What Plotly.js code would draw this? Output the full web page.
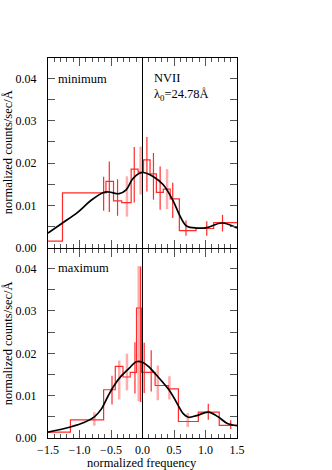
<!DOCTYPE html>
<html>
<head>
<meta charset="utf-8">
<script src="https://cdn.plot.ly/plotly-3.0.1.min.js"></script>
<style>
  body { margin: 0; background: #fff; }
  #chart { width: 332px; height: 470px; }
</style>
</head>
<body>
<div id="chart"></div>
<script>
// --- minimum (top panel) ---
var minEdges = [-1.5, -1.27, -0.58, -0.46, -0.33, -0.18, -0.07, 0.016, 0.12, 0.22, 0.33, 0.44, 0.585, 0.85, 1.13, 1.5];
var minCounts = [0.0016, 0.0130, 0.0157, 0.0111, 0.0107, 0.0186, 0.0179, 0.0208, 0.0175, 0.0131, 0.0139, 0.0116, 0.0041, 0.0046, 0.0060];
var minErrX = [-0.617, -0.527, -0.396, -0.131, 0.07, 0.174, 0.28, 0.48, 0.69, 1.02, 1.27];
var minErrLo = [0.0088, 0.0085, 0.0076, 0.0107, 0.0133, 0.0114, 0.0090, 0.0071, 0.0029, 0.0029, 0.0039];
var minErrHi = [0.0168, 0.0204, 0.0162, 0.0238, 0.0262, 0.0224, 0.0192, 0.0154, 0.0065, 0.0063, 0.0078];
var minErr2X = [-0.247, -0.03, 0.39];
var minErr2Lo = [0.0074, 0.0126, 0.0092];
var minErr2Hi = [0.0169, 0.0239, 0.0186];
var minFitX = [-1.5, -1.27, -1.03, -0.82, -0.62, -0.53, -0.37, -0.26, -0.16, -0.05, 0.016, 0.174, 0.33, 0.49, 0.6, 0.7, 0.86, 1.02, 1.26, 1.5];
var minFitY = [0.0035, 0.0059, 0.0084, 0.0112, 0.0131, 0.0132, 0.0128, 0.0137, 0.0162, 0.0176, 0.0178, 0.0168, 0.0149, 0.0110, 0.0074, 0.0052, 0.0047, 0.0048, 0.0059, 0.0047];

// --- maximum (bottom panel) ---
var maxEdges = [-1.5, -1.144, -0.617, -0.432, -0.31, -0.195, -0.095, -0.016, 0.2, 0.41, 0.57, 0.886, 1.218, 1.5];
var maxCounts = [0.0014, 0.0043, 0.0114, 0.0169, 0.0144, 0.0155, 0.0307, 0.0155, 0.0124, 0.0116, 0.0039, 0.0061, 0.0030];
var maxErrX = [-0.484, -0.12, -0.03, 0.027, 0.138, 1.044, 1.40];
var maxErrLo = [0.0079, 0.0105, 0.0085, 0.0106, 0.0110, 0.0043, 0.0021];
var maxErrHi = [0.0147, 0.0226, 0.0405, 0.0225, 0.0207, 0.0081, 0.0042];
var maxErr2X = [-0.764, -0.369, -0.247, -0.06, 0.243, 0.427, 0.718];
var maxErr2Lo = [0.0029, 0.0091, 0.0113, 0.0087, 0.0089, 0.0091, 0.0026];
var maxErr2Hi = [0.0061, 0.0183, 0.0199, 0.0406, 0.0171, 0.0146, 0.0059];
var maxFitX = [-1.5, -1.144, -0.92, -0.764, -0.66, -0.55, -0.45, -0.34, -0.21, -0.1, 0, 0.095, 0.2, 0.307, 0.438, 0.544, 0.65, 0.73, 0.86, 1.044, 1.2, 1.34, 1.5];
var maxFitY = [0.0014, 0.0026, 0.0037, 0.0050, 0.0067, 0.0098, 0.0124, 0.0146, 0.0165, 0.0180, 0.0179, 0.0169, 0.0152, 0.0134, 0.0110, 0.0083, 0.0057, 0.0049, 0.0053, 0.0061, 0.0050, 0.0035, 0.0029];

var FONT = "Liberation Serif, Times New Roman, serif";
var RED = "#ff2a2a";
var PINK = "rgba(255,70,70,0.45)";

function steps(edges, vals, xa, ya) {
  return {
    x: edges, y: vals.concat([vals[vals.length - 1]]),
    xaxis: xa, yaxis: ya, type: "scatter", mode: "lines",
    line: { shape: "hv", color: RED, width: 1.2 }, hoverinfo: "skip"
  };
}

function bars(xs, lo, hi, color, w, xa, ya) {
  var x = [], y = [];
  for (var i = 0; i < xs.length; i++) {
    x.push(xs[i], xs[i], null);
    y.push(lo[i], hi[i], null);
  }
  return {
    x: x, y: y, xaxis: xa, yaxis: ya, type: "scatter", mode: "lines",
    line: { color: color, width: w }, connectgaps: false, hoverinfo: "skip"
  };
}

function fit(xs, ys, xa, ya) {
  return {
    x: xs, y: ys, xaxis: xa, yaxis: ya, type: "scatter", mode: "lines",
    line: { shape: "spline", smoothing: 1, color: "black", width: 1.7 }, hoverinfo: "skip"
  };
}

var data = [
  bars(minErr2X, minErr2Lo, minErr2Hi, PINK, 2.5, "x2", "y2"),
  steps(minEdges, minCounts, "x2", "y2"),
  bars(minErrX, minErrLo, minErrHi, RED, 1.2, "x2", "y2"),
  fit(minFitX, minFitY, "x2", "y2"),
  bars(maxErr2X, maxErr2Lo, maxErr2Hi, PINK, 2.5, "x", "y"),
  steps(maxEdges, maxCounts, "x", "y"),
  bars(maxErrX, maxErrLo, maxErrHi, RED, 1.2, "x", "y"),
  fit(maxFitX, maxFitY, "x", "y")
];

function xAxis(labels, anchor) {
  return {
    range: [-1.5, 1.5], anchor: anchor, dtick: 0.5, tickformat: ".1f",
    ticks: "inside", ticklen: 8, tickcolor: "#555", tickwidth: 1,
    minor: { dtick: 0.1, ticks: "inside", ticklen: 4, tickcolor: "#555" },
    showline: true, linecolor: "black", linewidth: 1, mirror: "ticks",
    showgrid: false, zeroline: false, showticklabels: labels,
    ticklabelstandoff: 1,
    tickfont: { family: FONT, size: 12, color: "black" }
  };
}

function yAxis(domain, top, anchor) {
  return {
    domain: domain, range: [0, top], anchor: anchor, dtick: 0.01, tickformat: ".2f",
    ticks: "inside", ticklen: 7, tickcolor: "#555", tickwidth: 1,
    minor: { dtick: 0.005, ticks: "inside", ticklen: 7, tickcolor: "#555" },
    showline: true, linecolor: "black", linewidth: 1, mirror: "ticks",
    showgrid: false, zeroline: false, ticklabelstandoff: 8,
    tickfont: { family: FONT, size: 12, color: "black" }
  };
}

var layout = {
  width: 332, height: 470,
  margin: { l: 48, r: 95, t: 58, b: 32 },
  showlegend: false,
  paper_bgcolor: "white", plot_bgcolor: "white",
  font: { family: FONT, size: 12, color: "black" },
  xaxis: xAxis(true, "y"),
  xaxis2: Object.assign(xAxis(false, "y2"), { matches: "x" }),
  yaxis: yAxis([0, 0.497], 0.0446, "x"),
  yaxis2: yAxis([0.5, 1], 0.0448, "x2"),
  shapes: [
    { type: "line", xref: "x", yref: "y domain", x0: 0, x1: 0, y0: 0, y1: 1, line: { color: "black", width: 1 } },
    { type: "line", xref: "x2", yref: "y2 domain", x0: 0, x1: 0, y0: 0, y1: 1, line: { color: "black", width: 1 } }
  ],
  annotations: [
    { text: "minimum", xref: "paper", yref: "paper", x: 0.044, y: 0.944, xanchor: "left", yanchor: "middle", showarrow: false, font: { family: FONT, size: 12.5 } },
    { text: "NVII", xref: "paper", yref: "paper", x: 0.548, y: 0.948, xanchor: "left", yanchor: "middle", showarrow: false, font: { family: FONT, size: 12.5 } },
    { text: "λ<sub>0</sub>=24.78Å", xref: "paper", yref: "paper", x: 0.548, y: 0.902, xanchor: "left", yanchor: "middle", showarrow: false, font: { family: FONT, size: 12.5 } },
    { text: "maximum", xref: "paper", yref: "paper", x: 0.044, y: 0.447, xanchor: "left", yanchor: "middle", showarrow: false, font: { family: FONT, size: 12.5 } },
    { text: "normalized counts/sec/Å", xref: "paper", yref: "paper", x: -0.21, y: 0.753, textangle: -90, xanchor: "center", yanchor: "middle", showarrow: false, font: { family: FONT, size: 12.5 } },
    { text: "normalized counts/sec/Å", xref: "paper", yref: "paper", x: -0.21, y: 0.25, textangle: -90, xanchor: "center", yanchor: "middle", showarrow: false, font: { family: FONT, size: 12.5 } },
    { text: "normalized frequency", xref: "paper", yref: "paper", x: 0.497, y: -0.066, xanchor: "center", yanchor: "middle", showarrow: false, font: { family: FONT, size: 12.5 } }
  ]
};

Plotly.newPlot("chart", data, layout, { displayModeBar: false, staticPlot: true });
</script>
</body>
</html>
